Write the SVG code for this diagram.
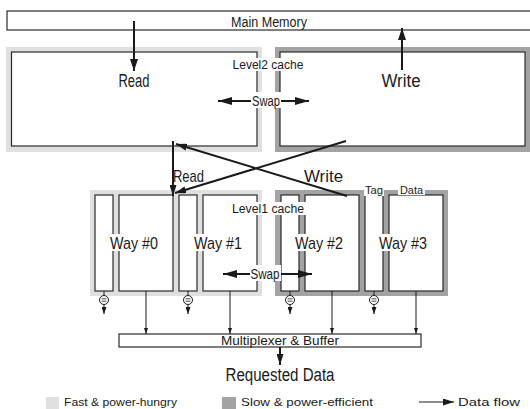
<svg xmlns="http://www.w3.org/2000/svg" width="530" height="409" viewBox="0 0 530 409">
<defs>
<style>
.t{font-family:"Liberation Sans",Arial,sans-serif;fill:#1a1a1a}
.box{fill:#fff;stroke:#2a2a2a;stroke-width:1.2}
.fast{fill:#e0e0e0}
.slow{fill:#a3a3a3}
.ln{stroke:#1a1a1a;stroke-width:2;fill:none}
.thin{stroke:#1a1a1a;stroke-width:1;fill:none}
.bg{fill:#fff}
</style>
<marker id="big" viewBox="0 0 12 8" refX="12" refY="4" markerWidth="12" markerHeight="8" markerUnits="userSpaceOnUse" orient="auto"><path d="M0,0 L12,4 L0,8 z" fill="#1a1a1a"/></marker>
<marker id="swp" viewBox="0 0 14 8" refX="14" refY="4" markerWidth="14" markerHeight="8" markerUnits="userSpaceOnUse" orient="auto"><path d="M0,0 L14,4 L0,8 z" fill="#1a1a1a"/></marker>
<marker id="mid" viewBox="0 0 11 7" refX="11" refY="3.5" markerWidth="11" markerHeight="7" markerUnits="userSpaceOnUse" orient="auto"><path d="M0,0 L11,3.5 L0,7 z" fill="#1a1a1a"/></marker>
<marker id="sm" viewBox="0 0 6 4" refX="6" refY="2" markerWidth="6" markerHeight="4" markerUnits="userSpaceOnUse" orient="auto"><path d="M0,0 L6,2 L0,4 z" fill="#1a1a1a"/></marker>
<marker id="eq" viewBox="0 0 7 5" refX="7" refY="2.5" markerWidth="7" markerHeight="5" markerUnits="userSpaceOnUse" orient="auto"><path d="M0,0 L7,2.5 L0,5 z" fill="#1a1a1a"/></marker>
</defs>

<g id="main-memory">
<rect class="box" x="7" y="11" width="530" height="19"/>
<text class="t" x="269" y="27" font-size="14" text-anchor="middle" textLength="76" lengthAdjust="spacingAndGlyphs">Main Memory</text>
</g>

<g id="l2-read">
<rect class="fast" x="6" y="47" width="256" height="105"/>
<rect class="box" x="11.5" y="52" width="245.5" height="94"/>
<text class="t" x="134" y="87" font-size="18" text-anchor="middle" textLength="31" lengthAdjust="spacingAndGlyphs">Read</text>
</g>

<g id="l2-write">
<rect class="slow" x="275" y="47" width="260" height="105"/>
<rect class="box" x="280" y="52" width="245" height="94"/>
<text class="t" x="401" y="87" font-size="18" text-anchor="middle" textLength="39" lengthAdjust="spacingAndGlyphs">Write</text>
</g>

<g id="l2-label">
<rect class="bg" x="230" y="58" width="75" height="13"/>
<text class="t" x="268" y="69" font-size="12" text-anchor="middle" textLength="71" lengthAdjust="spacingAndGlyphs">Level2 cache</text>
</g>

<g id="l1-fast">
<rect class="fast" x="90" y="190" width="172" height="106"/>
<rect class="box" x="95" y="195" width="18" height="96"/>
<rect class="box" x="119" y="195" width="54" height="96"/>
<rect class="box" x="179" y="195" width="18" height="96"/>
<rect class="box" x="203" y="195" width="54" height="96"/>
</g>

<g id="l1-slow">
<rect class="slow" x="275" y="190" width="173" height="106"/>
<rect class="box" x="281" y="195" width="18" height="96"/>
<rect class="box" x="305" y="195" width="54" height="96"/>
<rect class="box" x="365" y="195" width="18" height="96"/>
<rect class="box" x="389" y="195" width="54" height="96"/>
</g>

<g id="way0">
<rect class="bg" x="109" y="234" width="51" height="17"/>
<text class="t" x="134" y="248.5" font-size="17" text-anchor="middle" textLength="48" lengthAdjust="spacingAndGlyphs">Way #0</text>
</g>
<g id="way1">
<rect class="bg" x="193" y="234" width="51" height="17"/>
<text class="t" x="218" y="248.5" font-size="17" text-anchor="middle" textLength="48" lengthAdjust="spacingAndGlyphs">Way #1</text>
</g>
<g id="way2">
<rect class="bg" x="294" y="234" width="51" height="17"/>
<text class="t" x="319" y="248.5" font-size="17" text-anchor="middle" textLength="48" lengthAdjust="spacingAndGlyphs">Way #2</text>
</g>
<g id="way3">
<rect class="bg" x="378" y="234" width="51" height="17"/>
<text class="t" x="403" y="248.5" font-size="17" text-anchor="middle" textLength="48" lengthAdjust="spacingAndGlyphs">Way #3</text>
</g>

<g id="l1-label">
<rect class="bg" x="230" y="202" width="76" height="13"/>
<text class="t" x="268" y="212.5" font-size="12" text-anchor="middle" textLength="72" lengthAdjust="spacingAndGlyphs">Level1 cache</text>
</g>

<g id="tag-data-labels">
<rect class="bg" x="364" y="184" width="20" height="12"/>
<text class="t" x="374" y="194" font-size="11.5" text-anchor="middle" textLength="18" lengthAdjust="spacingAndGlyphs">Tag</text>
<rect class="bg" x="398" y="184" width="27" height="11"/>
<text class="t" x="411.5" y="194" font-size="11.5" text-anchor="middle" textLength="23" lengthAdjust="spacingAndGlyphs">Data</text>
</g>

<g id="comparators">
<g class="thin">
<line x1="104" y1="291" x2="104" y2="295.5"/>
<line x1="188" y1="291" x2="188" y2="295.5"/>
<line x1="290" y1="291" x2="290" y2="295.5"/>
<line x1="374" y1="291" x2="374" y2="295.5"/>
</g>
<g fill="#fff" stroke="#1a1a1a" stroke-width="1">
<circle cx="104" cy="300" r="4.5"/>
<circle cx="188" cy="300" r="4.5"/>
<circle cx="290" cy="300" r="4.5"/>
<circle cx="374" cy="300" r="4.5"/>
</g>
<g stroke="#1a1a1a" stroke-width="0.8">
<line x1="101.5" y1="298.8" x2="106.5" y2="298.8"/><line x1="101.5" y1="301.2" x2="106.5" y2="301.2"/>
<line x1="185.5" y1="298.8" x2="190.5" y2="298.8"/><line x1="185.5" y1="301.2" x2="190.5" y2="301.2"/>
<line x1="287.5" y1="298.8" x2="292.5" y2="298.8"/><line x1="287.5" y1="301.2" x2="292.5" y2="301.2"/>
<line x1="371.5" y1="298.8" x2="376.5" y2="298.8"/><line x1="371.5" y1="301.2" x2="376.5" y2="301.2"/>
</g>
</g>

<g id="mux">
<rect class="box" x="119" y="334" width="302" height="13"/>
<text class="t" x="280" y="345" font-size="13" text-anchor="middle" textLength="118" lengthAdjust="spacingAndGlyphs">Multiplexer &amp; Buffer</text>
</g>

<g id="requested">
<text class="t" x="280" y="381" font-size="18" text-anchor="middle" textLength="109" lengthAdjust="spacingAndGlyphs">Requested Data</text>
</g>

<g id="connectors">
<line class="ln" x1="134" y1="21" x2="134" y2="71" marker-end="url(#big)"/>
<line class="ln" x1="402" y1="70" x2="402" y2="28" marker-end="url(#big)"/>
<line class="ln" x1="256" y1="101" x2="218" y2="101" marker-end="url(#swp)"/>
<line class="ln" x1="270" y1="101" x2="309" y2="101" marker-end="url(#swp)"/>
<line class="ln" x1="173" y1="141" x2="173" y2="196" marker-end="url(#mid)"/>
<line class="ln" x1="346" y1="141" x2="175" y2="193" marker-end="url(#mid)"/>
<line class="ln" x1="347" y1="196" x2="176" y2="144" marker-end="url(#mid)"/>
<line class="ln" x1="256" y1="274" x2="223" y2="274" marker-end="url(#swp)"/>
<line class="ln" x1="272" y1="274" x2="312" y2="274" marker-end="url(#swp)"/>
<g class="thin">
<line x1="104" y1="304.5" x2="104" y2="314" marker-end="url(#eq)"/>
<line x1="188" y1="304.5" x2="188" y2="314" marker-end="url(#eq)"/>
<line x1="290" y1="304.5" x2="290" y2="314" marker-end="url(#eq)"/>
<line x1="374" y1="304.5" x2="374" y2="314" marker-end="url(#eq)"/>
<line x1="146" y1="291" x2="146" y2="334" marker-end="url(#sm)"/>
<line x1="230" y1="291" x2="230" y2="334" marker-end="url(#sm)"/>
<line x1="332" y1="291" x2="332" y2="334" marker-end="url(#sm)"/>
<line x1="416" y1="291" x2="416" y2="334" marker-end="url(#sm)"/>
</g>
<line class="ln" x1="280" y1="347" x2="280" y2="365" marker-end="url(#mid)"/>
</g>

<g id="swap-labels">
<rect class="bg" x="251" y="92" width="30" height="16"/>
<text class="t" x="266" y="105.5" font-size="14" text-anchor="middle" textLength="28" lengthAdjust="spacingAndGlyphs">Swap</text>
<rect class="bg" x="250" y="265" width="31" height="16"/>
<text class="t" x="265" y="278.5" font-size="14" text-anchor="middle" textLength="29" lengthAdjust="spacingAndGlyphs">Swap</text>
</g>

<g id="flow-labels">
<text class="t" x="173" y="182" font-size="17" textLength="31" lengthAdjust="spacingAndGlyphs">Read</text>
<text class="t" x="304" y="182" font-size="17" textLength="39" lengthAdjust="spacingAndGlyphs">Write</text>
</g>

<g id="legend">
<rect class="fast" x="46" y="397" width="13" height="12"/>
<text class="t" x="64" y="406" font-size="11" textLength="113" lengthAdjust="spacingAndGlyphs">Fast &amp; power-hungry</text>
<rect class="slow" x="222" y="397" width="14" height="12"/>
<text class="t" x="241" y="406" font-size="11" textLength="132" lengthAdjust="spacingAndGlyphs">Slow &amp; power-efficient</text>
<line x1="419" y1="402" x2="454" y2="402" stroke="#1a1a1a" stroke-width="1.2" marker-end="url(#mid)"/>
<text class="t" x="458" y="406" font-size="11" textLength="62" lengthAdjust="spacingAndGlyphs">Data flow</text>
</g>
</svg>
